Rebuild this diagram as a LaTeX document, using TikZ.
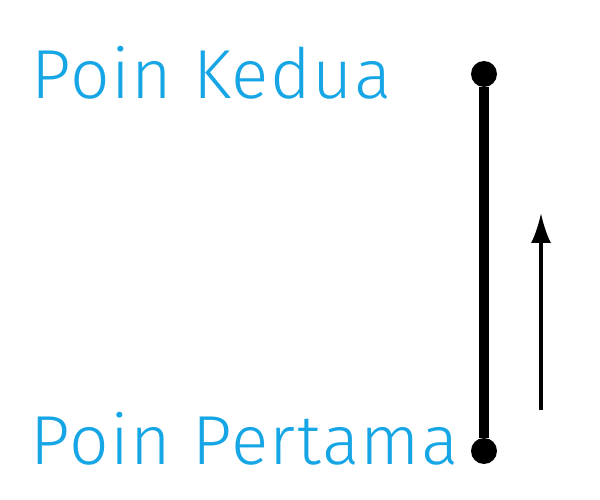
\documentclass[tikz,border=0pt]{standalone}
\usepackage{fontspec}
\setmainfont{Fira Sans Light}[LetterSpace=2.2]
\usetikzlibrary{arrows.meta}
\definecolor{poinblue}{RGB}{22,166,229}
\tikzset{
  label text/.style={anchor=base west, inner sep=0pt, text=poinblue, font=\fontsize{39.5}{42}\selectfont},
  dot/.style={circle, fill=black, inner sep=0pt, minimum size=0.52cm},
  segment/.style={line width=5.6pt},
  direction/.style={line width=1.9pt, -{Latex[length=0.6cm, width=0.4cm]}}
}
\begin{document}
\begin{tikzpicture}[x=0.02cm, y=-0.02cm]
\useasboundingbox (0,0) rectangle (600,500);
\node[label text] (kedua) at (31,99) {Poin Kedua};
\node[label text] (pertama) at (30,465) {Poin Pertama};
\node[dot] (p2) at (484,74) {};
\node[dot] (p1) at (484,451) {};
\draw[segment] (p1) -- (p2);
\coordinate (a0) at (541,410);
\coordinate (a1) at (541,213);
\draw[direction] (a0) -- (a1);
\end{tikzpicture}
\end{document}
